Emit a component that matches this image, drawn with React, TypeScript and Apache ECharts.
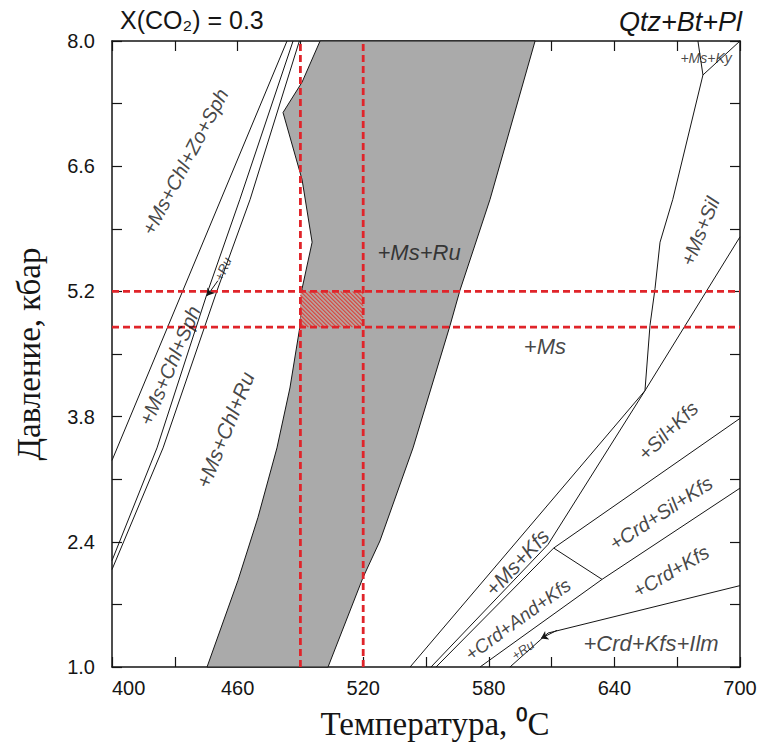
import { useEffect, useRef } from "react";
import * as echarts from "echarts";

type Pt = [number, number];

// Axis ranges (°C, kbar)
const xMin = 400;
const xMax = 700;
const xStep = 30;
const yMin = 1.0;
const yMax = 8.0;
const yStep = 0.7;

// Gray field (+Ms+Ru): left and right boundaries, top to bottom
const grayLeft: Pt[] = [
  [499.4, 8.0], [490.8, 7.54], [481.7, 7.2], [490.8, 6.45], [495.6, 5.75],
  [490.8, 5.23], [489.8, 4.81], [485.0, 4.12], [478.8, 3.45], [469.7, 2.67],
  [460.2, 1.97], [445.4, 1.0],
];
const grayRight: Pt[] = [
  [602.1, 8.0], [580.6, 6.23], [566.2, 5.21], [561.5, 4.82], [543.8, 3.45],
  [528.0, 2.41], [519.9, 2.0], [503.2, 1.0],
];

// Field boundaries
const lineA: Pt[] = [[400, 3.31], [483.6, 8.0]];
const lineB: Pt[] = [[400, 2.19], [421.5, 3.45], [445.9, 5.21], [461.1, 6.23], [486.5, 8.0]];
const lineC: Pt[] = [[400, 2.09], [424.4, 3.45], [450.2, 5.21], [466.0, 6.23], [489.5, 8.0]];
const kyLeft: Pt[] = [[679.9, 8.0], [682.3, 7.62]];
const kyRight: Pt[] = [[682.3, 7.62], [700, 8.0]];
const silLine: Pt[] = [
  [682.3, 7.62], [667.9, 6.23], [661.8, 5.75], [659.4, 5.23], [657.0, 4.82],
  [654.6, 4.09], [542.4, 1.0],
];
const diagLine: Pt[] = [[700, 5.81], [654.6, 4.09], [608.3, 2.37], [552.4, 1.0]];
const crdLine: Pt[] = [[700, 3.78], [611.0, 2.33], [554.8, 1.0]];
const crdKfsLine: Pt[] = [[700, 3.0], [634.1, 1.98], [575.8, 1.0]];
const ilmLine: Pt[] = [[700, 1.91], [608.3, 1.38], [590.1, 1.0]];
const andSilLine: Pt[] = [[611.0, 2.33], [634.1, 1.98]];

const boundaries: Pt[][] = [
  lineA, lineB, lineC, kyLeft, kyRight, silLine, diagLine, crdLine, crdKfsLine, ilmLine, andSilLine,
];

// Red reference lines and hatched window
const redT = [490, 520];
const redP = [4.8, 5.2];

// Small arrows (tail -> tip)
const arrows: Pt[][] = [
  [[450.6, 5.32], [445.4, 5.15]],
  [[612.6, 1.41], [604.9, 1.32]],
];

// Field labels
const fieldNames = [
  "+Ms+Chl+Zo+Sph", "+Ms+Chl+Sph", "+Ru", "+Ms+Chl+Ru", "+Ms+Ru", "+Ms", "+Ms+Sil",
  "+Ms+Ky", "+Sil+Kfs", "+Crd+Sil+Kfs", "+Crd+Kfs", "+Crd+Kfs+Ilm", "+Ms+Kfs",
  "+Crd+And+Kfs", "+Ru",
];
const fieldT = [434.9, 427.6, 453.0, 454.0, 546.7, 606.8, 680.9, 683.8, 665.6, 662.2, 667.0, 657.5, 593.5, 593.9, 596.3];
const fieldP = [6.65, 4.37, 5.45, 3.65, 5.64, 4.58, 5.87, 7.81, 3.64, 2.72, 2.07, 1.26, 2.17, 1.53, 1.19];

// label styles (rotation, font size) per field label index
const labelRotate = [62, 67, 66, 68, 0, 0, 68, 0, 44, 33, 30, 0, 47, 36, 35];
const labelSize = [20, 20, 13, 21, 22, 22, 20, 14, 20, 20, 20, 22, 21, 19, 13];

const SANS = '"Liberation Sans", Arial, Helvetica, sans-serif';
const SERIF = '"Liberation Serif", "Times New Roman", serif';
const INK = "#151515";

export default function App() {
  const ref = useRef<HTMLDivElement>(null);

  useEffect(() => {
    if (!ref.current) return;
    const chart = echarts.init(ref.current, undefined, { renderer: "svg" });

    const grayPoly: Pt[] = [...grayLeft, ...grayRight.slice().reverse()];

    const axisLine = { show: true, onZero: false, lineStyle: { color: INK, width: 1.5 } };
    const axisTick = { show: true, inside: true, length: 10, lineStyle: { color: INK, width: 1.2 } };

    const series: any[] = [];

    series.push({
      type: "custom",
      z: 1,
      silent: true,
      data: [[500, 5]],
      renderItem: (_p: any, api: any) => ({
        type: "polygon",
        shape: { points: grayPoly.map((p) => api.coord(p)) },
        style: { fill: "#aaaaaa", stroke: INK, lineWidth: 1 },
      }),
    });

    series.push({
      type: "custom",
      z: 2,
      silent: true,
      data: [[505, 5]],
      renderItem: (_p: any, api: any) => {
        const a = api.coord([redT[0], redP[1]]);
        const b = api.coord([redT[1], redP[0]]);
        const x0 = a[0], y0 = a[1], x1 = b[0], y1 = b[1];
        const children: any[] = [
          { type: "rect", shape: { x: x0, y: y0, width: x1 - x0, height: y1 - y0 }, style: { fill: "#b8a29f" } },
        ];
        const step = 4;
        for (let c = x0 - y1; c <= x1 - y0; c += step) {
          const ya = Math.max(y0, x0 - c);
          const yb = Math.min(y1, x1 - c);
          if (yb <= ya) continue;
          children.push({
            type: "line",
            shape: { x1: ya + c, y1: ya, x2: yb + c, y2: yb },
            style: { stroke: "#d8443c", lineWidth: 1.1 },
          });
        }
        return { type: "group", children };
      },
    });

    boundaries.forEach((ln) => {
      series.push({
        type: "line",
        data: ln,
        z: 3,
        silent: true,
        symbol: "none",
        showSymbol: false,
        lineStyle: { color: INK, width: 1 },
      });
    });

    const redStyle = { color: "#e0242a", width: 2.8, type: [7, 4] };
    redT.forEach((t) => {
      series.push({
        type: "line",
        data: [[t, yMin], [t, yMax]],
        z: 4,
        silent: true,
        symbol: "none",
        lineStyle: redStyle,
      });
    });
    redP.forEach((p) => {
      series.push({
        type: "line",
        data: [[xMin, p], [xMax, p]],
        z: 4,
        silent: true,
        symbol: "none",
        lineStyle: redStyle,
      });
    });

    series.push({
      type: "lines",
      coordinateSystem: "cartesian2d",
      z: 5,
      silent: true,
      symbol: ["none", "arrow"],
      symbolSize: 7,
      lineStyle: { color: INK, width: 1, opacity: 1 },
      data: arrows.map((a) => ({ coords: a })),
    });

    series.push({
      type: "scatter",
      z: 6,
      silent: true,
      symbolSize: 1,
      itemStyle: { color: "rgba(0,0,0,0)" },
      label: {
        show: true,
        position: "inside",
        formatter: "{b}",
        color: INK,
        fontStyle: "italic",
        fontFamily: SANS,
      },
      data: fieldNames.map((n, i) => ({
        name: n,
        value: [fieldT[i], fieldP[i]],
        label: { rotate: labelRotate[i], fontSize: labelSize[i] },
      })),
    });

    const xLabelFmt = (v: number) => (Math.round(v - xMin) % 60 === 0 ? String(Math.round(v)) : "");
    const yLabelFmt = (v: number) => {
      const k = (v - yMin) / 1.4;
      return Math.abs(k - Math.round(k)) < 1e-6 ? v.toFixed(1) : "";
    };

    chart.setOption({
      animation: false,
      backgroundColor: "#ffffff",
      grid: { left: 112, top: 41, width: 628, height: 629, show: false },
      xAxis: [
        {
          type: "value",
          min: xMin,
          max: xMax,
          interval: xStep,
          position: "bottom",
          axisLine,
          axisTick,
          splitLine: { show: false },
          axisLabel: {
            formatter: xLabelFmt,
            fontSize: 20,
            color: INK,
            fontFamily: SANS,
            margin: 11,
            alignMinLabel: "left",
          },
          name: "Температура, ⁰C",
          nameLocation: "middle",
          nameGap: 40,
          nameTextStyle: { fontFamily: SERIF, fontSize: 33, color: INK, padding: [0, 0, 0, 18] },
        },
        {
          type: "value",
          min: xMin,
          max: xMax,
          interval: xStep,
          position: "top",
          axisLine,
          axisTick,
          splitLine: { show: false },
          axisLabel: { show: false },
        },
      ],
      yAxis: [
        {
          type: "value",
          min: yMin,
          max: yMax,
          interval: yStep,
          position: "left",
          axisLine,
          axisTick,
          splitLine: { show: false },
          axisLabel: { formatter: yLabelFmt, fontSize: 20, color: INK, fontFamily: SANS, margin: 17 },
          name: "Давление, кбар",
          nameLocation: "middle",
          nameGap: 67,
          nameTextStyle: { fontFamily: SERIF, fontSize: 33, color: INK },
        },
        {
          type: "value",
          min: yMin,
          max: yMax,
          interval: yStep,
          position: "right",
          axisLine,
          axisTick,
          splitLine: { show: false },
          axisLabel: { show: false },
        },
      ],
      graphic: [
        {
          type: "text",
          left: 120,
          top: 7,
          style: { text: "X(CO₂) = 0.3", font: `25px ${SANS}`, fill: INK },
        },
        {
          type: "text",
          right: 18,
          top: 8,
          style: { text: "Qtz+Bt+Pl", font: `italic 27px ${SANS}`, fill: INK },
        },
      ],
      series,
    });

    return () => chart.dispose();
  }, []);

  return <div ref={ref} style={{ position: "absolute", left: 0, top: 0, width: 760, height: 745 }} />;
}
